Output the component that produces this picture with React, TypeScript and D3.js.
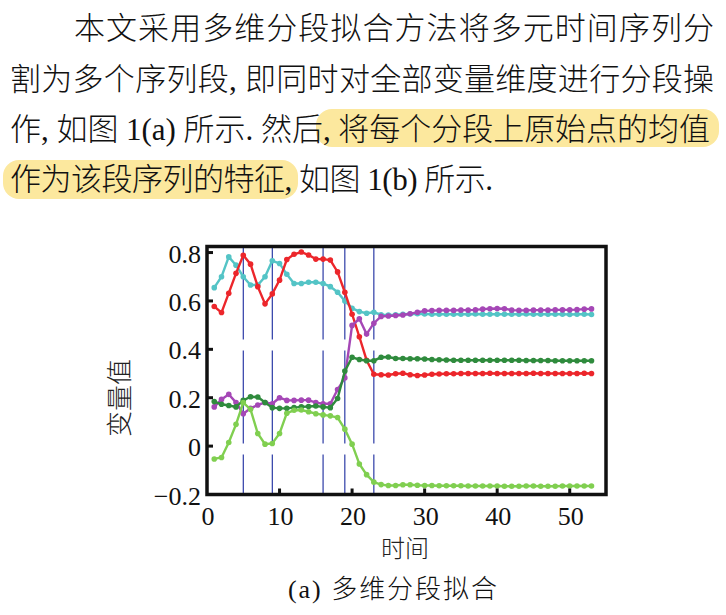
import React from "react";
import * as d3 from "d3";

const red = [0.577,0.552,0.632,0.714,0.789,0.752,0.659,0.588,0.629,0.686,0.771,0.793,0.802,0.79,0.773,0.773,0.769,0.72,0.636,0.545,0.452,0.355,0.297,
  0.295,0.294,0.299,0.301,0.295,0.292,0.294,0.297,0.298,0.299,0.299,0.300,0.300,0.300,0.300,0.301,0.300,0.300,0.300,0.300,0.300,0.301,0.300,0.300,0.300,0.300,0.300,0.300,0.301,0.300];
const cyan = [0.655,0.70,0.782,0.748,0.70,0.666,0.666,0.70,0.766,0.755,0.71,0.672,0.672,0.677,0.677,0.672,0.659,0.636,0.60,0.57,0.556,0.549,0.553,0.543,
  0.542,0.543,0.545,0.546,0.547,0.546,0.545,0.545,0.545,0.545,0.545,0.545,0.546,0.545,0.545,0.545,0.545,0.545,0.545,0.546,0.545,0.545,0.545,0.545,0.545,0.544,0.545,0.545,0.544];
const purple = [0.162,0.193,0.214,0.18,0.134,0.156,0.17,0.18,0.175,0.2,0.189,0.189,0.19,0.19,0.18,0.175,0.175,0.234,0.282,0.499,0.526,0.463,0.508,0.536,0.538,0.54,0.542,0.547,0.553,0.559,
  0.560,0.561,0.561,0.561,0.562,0.562,0.563,0.566,0.568,0.569,0.568,0.562,0.561,0.561,0.562,0.562,0.562,0.563,0.563,0.563,0.564,0.566,0.567];
const darkGreen = [0.184,0.173,0.168,0.162,0.189,0.204,0.203,0.18,0.159,0.156,0.156,0.159,0.162,0.164,0.166,0.162,0.159,0.197,0.31,0.367,0.358,0.353,0.353,0.367,0.368,0.362,
  0.362,0.361,0.361,0.360,0.358,0.357,0.356,0.355,0.355,0.355,0.355,0.355,0.355,0.355,0.355,0.355,0.355,0.354,0.354,0.354,0.354,0.353,0.353,0.353,0.353,0.353,0.353];
const lightGreen = [-0.053,-0.047,0.015,0.09,0.18,0.152,0.052,0.008,0.011,0.052,0.136,0.148,0.149,0.142,0.134,0.129,0.125,0.118,0.07,0.008,-0.074,-0.118,-0.149,-0.159,-0.163,
  -0.163,-0.160,-0.160,-0.162,-0.163,-0.163,-0.164,-0.164,-0.164,-0.164,-0.165,-0.165,-0.165,-0.165,-0.165,-0.166,-0.166,-0.166,-0.165,-0.165,-0.166,-0.166,-0.166,-0.165,-0.165,-0.165,-0.165,-0.165];

const segmentBreaks = [5, 9, 16, 19, 23];
const xTicks = [0, 10, 20, 30, 40, 50];
const yTicks = [-0.2, 0, 0.2, 0.4, 0.6, 0.8];
const yTickLabels = ["\u22120.2", "0", "0.2", "0.4", "0.6", "0.8"];

const series = [
  { name: "cyan", values: cyan, color: "#54c4c6" },
  { name: "red", values: red, color: "#ec262b" },
  { name: "purple", values: purple, color: "#a547b6" },
  { name: "darkGreen", values: darkGreen, color: "#2f8b3d" },
  { name: "lightGreen", values: lightGreen, color: "#80cf50" },
];

const paraLines = [
  { text: "本文采用多维分段拟合方法将多元时间序列分", x: 74, y: 39, w: 640 },
  { text: "割为多个序列段, 即同时对全部变量维度进行分段操", x: 10, y: 90, w: 704 },
  { text: "作, 如图 1(a) 所示. 然后, 将每个分段上原始点的均值", x: 10, y: 140, w: 700 },
  { text: "作为该段序列的特征, 如图 1(b) 所示.", x: 10, y: 190, w: 483 },
];

const FONT = "Liberation Serif, Noto Sans CJK SC, serif";
const SERIF = "Liberation Serif, serif";
const CJK = "Noto Sans CJK SC, sans-serif";

export default function App() {
  const left = 207, right = 606, top = 246.5, bottom = 494.5;
  const x = d3.scaleLinear().domain([0, 55]).range([left, right]);
  const y = d3.scaleLinear().domain([-0.2, 0.825]).range([bottom, top]);
  const line = d3.line<number>().x((_, i) => x(i + 1)).y((d) => y(d));

  return (
    <div style={{ position: "absolute", left: 0, top: 0 }}>
      <svg width={726} height={615} style={{ display: "block", background: "#fff" }}>
        {/* highlights */}
        <rect x={316} y={109} width={403} height={38} rx={16} fill="#fce89e" />
        <rect x={3} y={160} width={295} height={39} rx={16} fill="#fce89e" />
        {paraLines.map((l, i) => (
          <text key={i} x={l.x} y={l.y} fontSize={31} fontFamily={FONT} fontWeight={300} fill="#111"
            textLength={l.w} lengthAdjust="spacing">
            {l.text}
          </text>
        ))}

        {/* segment lines */}
        {segmentBreaks.map((b) => (
          <line key={b} x1={x(b)} x2={x(b)} y1={top} y2={bottom} stroke="#1a2a9e" strokeWidth={1.1} strokeDasharray="93,11" />
        ))}

        {series.map((s) => (
          <g key={s.name}>
            <path d={line(s.values) || ""} fill="none" stroke={s.color} strokeWidth={2.4} />
            {s.values.map((v, i) => (
              <circle key={i} cx={x(i + 1)} cy={y(v)} r={2.8} fill={s.color} />
            ))}
          </g>
        ))}

        {/* frame */}
        <rect x={left} y={top} width={right - left} height={bottom - top} fill="none" stroke="#111" strokeWidth={3.5} />
        {xTicks.slice(1).map((t) => (
          <line key={t} x1={x(t)} x2={x(t)} y1={bottom} y2={bottom - 6} stroke="#111" strokeWidth={3} />
        ))}
        {yTicks.slice(1).map((t) => (
          <line key={t} x1={left} x2={left + 6} y1={y(t)} y2={y(t)} stroke="#111" strokeWidth={3} />
        ))}
        {xTicks.map((t) => (
          <text key={t} x={x(t) + 1} y={525} fontSize={26} fontFamily={SERIF} textAnchor="middle" fill="#111">{t}</text>
        ))}
        {yTicks.map((t, i) => (
          <text key={t} x={201} y={y(t) + 10} fontSize={26} fontFamily={SERIF} textAnchor="end" fill="#111">
            {yTickLabels[i]}
          </text>
        ))}
        <text x={405} y={557} fontSize={24} fontFamily={CJK} fontWeight={300} textAnchor="middle" fill="#222">时间</text>
        <text transform="translate(129,398) rotate(-90)" fontSize={26} fontFamily={CJK} fontWeight={300} textAnchor="middle" fill="#222">变量值</text>
        <text x={288} y={598} fontSize={26} fontFamily={FONT} fontWeight={300} fill="#111" textLength={209} lengthAdjust="spacing">(a)  多维分段拟合</text>
      </svg>
    </div>
  );
}
